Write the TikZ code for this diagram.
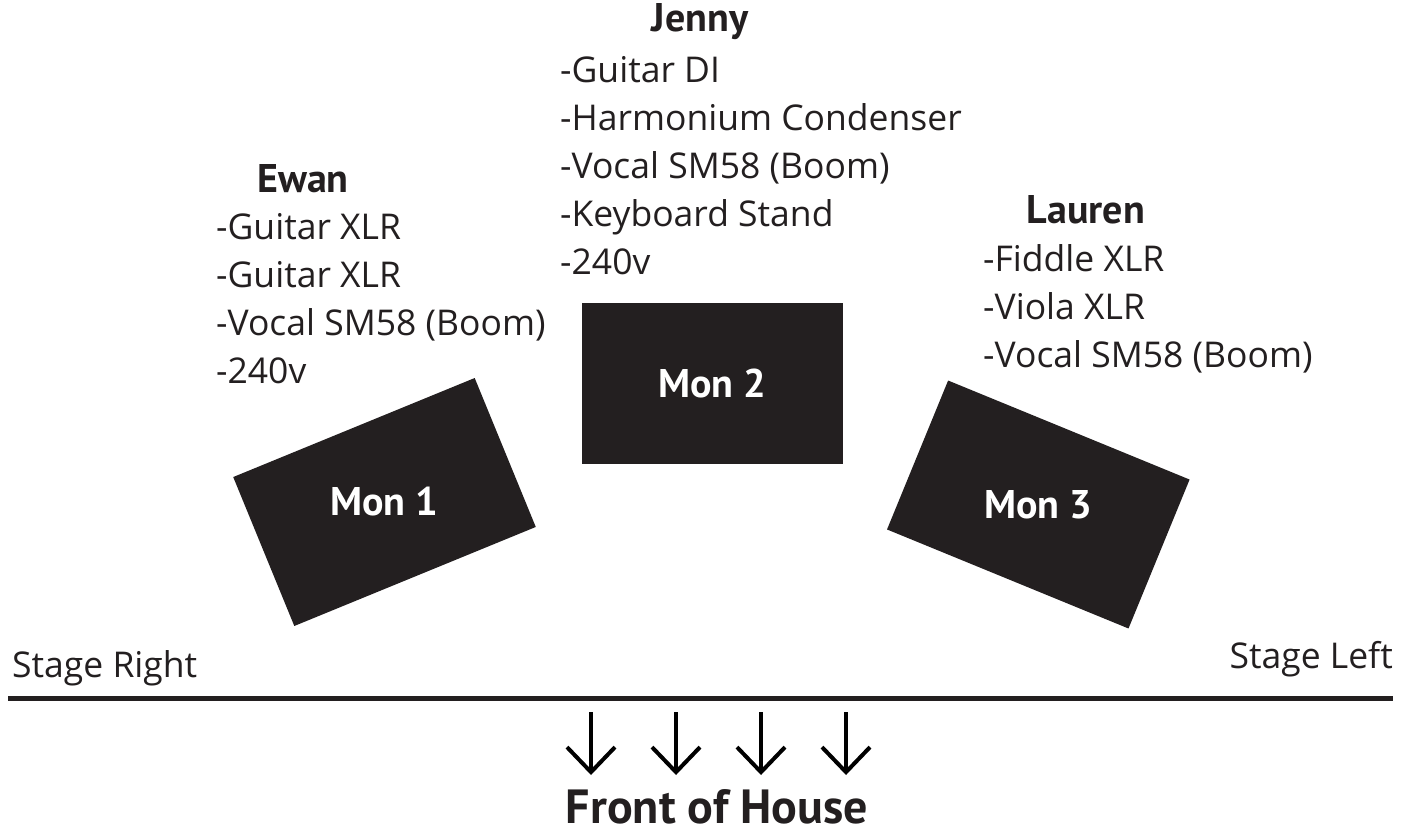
\documentclass[tikz,border=0pt]{standalone}
\usepackage{fontspec}
\setmainfont{Open Sans}
\newfontfamily\headfont{PT Sans}
\usetikzlibrary{arrows.meta,positioning}
\definecolor{inkblack}{HTML}{231F20}

\begin{document}
\begin{tikzpicture}[x=1pt,y=-1pt,
    monitor/.style={draw=none,fill=inkblack,minimum width=261pt,minimum height=161pt,inner sep=0pt},
    mon-label/.style={text=white,font=\headfont\fontsize{40}{42}\selectfont\bfseries,inner sep=0pt},
    player/.style={anchor=base,inner sep=0pt,text=inkblack,font=\headfont\fontsize{40}{42}\selectfont\bfseries},
    kit-list/.style={anchor=base west,inner sep=0pt,align=left,text=inkblack,font=\fontsize{35.5}{48}\selectfont},
    side-label/.style={inner sep=0pt,text=inkblack,font=\fontsize{35.5}{40}\selectfont},
    foh/.style={anchor=base,inner sep=0pt,text=inkblack,font=\headfont\fontsize{48}{50}\selectfont\bfseries},
    foh-arrow/.style={-{Straight Barb[length=25pt,width=48pt]},line width=4pt,black}
  ]
    \useasboundingbox (0,0) rectangle (1412,832);

    % Players and what they bring (lists sit on their last line)
    \node[player] (ewan) at (303,192) {Ewan};
    \node[kit-list] (ewan-kit) at (216,383) {-Guitar XLR\\-Guitar XLR\\-Vocal SM58 (Boom)\\-240v};
    \node[player] (jenny) at (700,32) {Jenny};
    \node[kit-list] (jenny-kit) at (560,274) {-Guitar DI\\-Harmonium Condenser\\-Vocal SM58 (Boom)\\-Keyboard Stand\\-240v};
    \node[player] (lauren) at (1086,223) {Lauren};
    \node[kit-list] (lauren-kit) at (983,367) {-Fiddle XLR\\-Viola XLR\\-Vocal SM58 (Boom)};

    % Monitor wedges
    \node[monitor,rotate=22.3] (mon1) at (384.5,502) {};
    \node[mon-label] (mon1-text) at (mon1.center) {Mon 1};
    \node[monitor] (mon2) at (712.5,383) {};
    \node[mon-label] (mon2-text) at (mon2.center) {Mon 2};
    \node[monitor,rotate=-22.3] (mon3) at (1038.3,504.5) {};
    \node[mon-label] (mon3-text) at (mon3.center) {Mon 3};

    % Stage edge
    \node[side-label,anchor=base west] (stage-right) at (12,677) {Stage Right};
    \node[side-label,anchor=base east] (stage-left) at (1393,668) {Stage Left};
    \draw[line width=5pt,inkblack] (8,698) -- (1393,698);

    % Towards the audience
    \foreach \x [count=\i] in {591,676,761,846} {
      \coordinate (top\i) at (\x,712);
      \coordinate (tip\i) at (\x,775);
      \draw[foh-arrow] (top\i) -- (tip\i);
    }
    \node[foh] (front) at (717,823) {Front of House};
  \end{tikzpicture}
\end{document}
